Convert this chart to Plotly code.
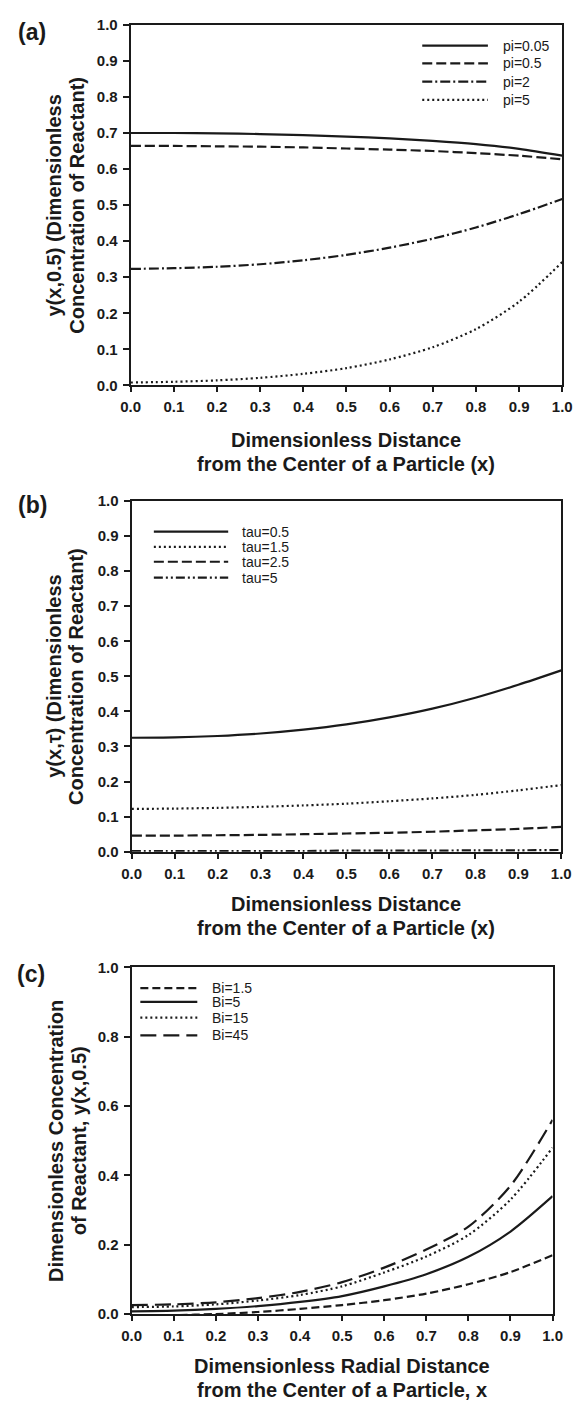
import plotly.graph_objects as go

W, H = 579, 1410
INK = "#1a1a1a"
FONT = "Liberation Sans, Arial, sans-serif"

# ---- data -------------------------------------------------------------
x_pos = [0.0, 0.1, 0.2, 0.3, 0.4, 0.5, 0.6, 0.7, 0.8, 0.9, 1.0]

# (a) y(x, 0.5) for several pi values
pi_labels = ["pi=0.05", "pi=0.5", "pi=2", "pi=5"]
pi_005 = [0.700, 0.700, 0.699, 0.697, 0.694, 0.690, 0.685, 0.678, 0.669, 0.656, 0.637]
pi_05 = [0.664, 0.664, 0.663, 0.662, 0.660, 0.657, 0.654, 0.650, 0.644, 0.637, 0.627]
pi_2 = [0.323, 0.325, 0.329, 0.336, 0.347, 0.362, 0.382, 0.407, 0.438, 0.475, 0.517]
pi_5 = [0.008, 0.010, 0.014, 0.021, 0.032, 0.048, 0.072, 0.106, 0.156, 0.232, 0.342]

# (b) y(x, tau) for several tau values
tau_labels = ["tau=0.5", "tau=1.5", "tau=2.5", "tau=5"]
tau_05 = [0.325, 0.326, 0.330, 0.337, 0.348, 0.363, 0.383, 0.408, 0.439, 0.476, 0.517]
tau_15 = [0.122, 0.123, 0.125, 0.128, 0.132, 0.137, 0.144, 0.152, 0.162, 0.175, 0.190]
tau_25 = [0.046, 0.046, 0.047, 0.048, 0.050, 0.052, 0.054, 0.057, 0.061, 0.065, 0.071]
tau_5 = [0.002, 0.002, 0.002, 0.002, 0.002, 0.003, 0.003, 0.003, 0.004, 0.004, 0.005]

# (c) y(x, 0.5) for several Biot numbers
bi_labels = ["Bi=1.5", "Bi=5", "Bi=15", "Bi=45"]
bi_1_5 = [-0.004, -0.003, 0.000, 0.006, 0.015, 0.026, 0.040, 0.059, 0.086, 0.121, 0.170]
bi_5 = [0.008, 0.010, 0.015, 0.023, 0.035, 0.052, 0.080, 0.115, 0.165, 0.238, 0.340]
bi_15 = [0.020, 0.022, 0.028, 0.039, 0.055, 0.080, 0.120, 0.166, 0.228, 0.330, 0.480]
bi_45 = [0.026, 0.028, 0.034, 0.046, 0.064, 0.092, 0.134, 0.186, 0.252, 0.370, 0.560]

# ---- line styles --------------------------------------------------------
SOLID = "solid"
DOT = "2px,3px"
DASH = "10px,4px"
DASH_DOT = "10px,3px,2px,3px"
DASH_DOT_DOT = "9px,3px,2px,3px,2px,3px"
SHORT_DASH = "8px,4px"
LONG_DASH = "16px,7px"


def px(x):
    return x / W


def py(y):
    return 1 - y / H


panels = [
    dict(
        key="", xdom=(125, 572), ydom=(16, 381), dtick=0.1,
        series=[(pi_005, SOLID), (pi_05, DASH), (pi_2, DASH_DOT), (pi_5, DOT)],
        labels=pi_labels, styles=[SOLID, DASH, DASH_DOT, DOT],
        leg_x=(427, 495), leg_tx=509, leg_y=[37, 55, 73.5, 92],
        tag="(a)", tag_xy=(23, 23),
        ytitle=["y(x,0.5) (Dimensionless", "Concentration of Reactant)"], ytitle_x=(46, 69),
        xtitle=["Dimensionless Distance", "from the Center of a Particle (x)"], xtitle_y=(436, 461),
    ),
    dict(
        key="2", xdom=(126, 571), ydom=(498, 853), dtick=0.1,
        series=[(tau_05, SOLID), (tau_15, DOT), (tau_25, DASH), (tau_5, DASH_DOT_DOT)],
        labels=tau_labels, styles=[SOLID, DOT, DASH, DASH_DOT_DOT],
        leg_x=(149, 226), leg_tx=238, leg_y=[529, 544.5, 559.5, 575.5],
        tag="(b)", tag_xy=(23, 502),
        ytitle=["y(x,τ) (Dimensionless", "Concentration of Reactant)"], ytitle_x=(46, 69),
        xtitle=["Dimensionless Distance", "from the Center of a Particle (x)"], xtitle_y=(906, 930),
    ),
    dict(
        key="3", xdom=(126, 562), ydom=(970, 1321), dtick=0.2,
        series=[(bi_1_5, SHORT_DASH), (bi_5, SOLID), (bi_15, DOT), (bi_45, LONG_DASH)],
        labels=bi_labels, styles=[SHORT_DASH, SOLID, DOT, LONG_DASH],
        leg_x=(135, 194), leg_tx=207, leg_y=[991, 1005, 1021, 1039],
        tag="(c)", tag_xy=(22, 977),
        ytitle=["Dimensionless Concentration", "of Reactant, y(x,0.5)"], ytitle_x=(47, 71),
        xtitle=["Dimensionless Radial Distance", "from the Center of a Particle, x"], xtitle_y=(1374, 1398),
    ),
]

fig = go.Figure()
shapes = []
annotations = []

axis_common = dict(
    range=[0, 1], showgrid=False, zeroline=False, showline=True,
    linecolor=INK, linewidth=2, mirror=True,
    ticks="outside", ticklen=5, tickwidth=1.5, tickcolor=INK,
    tickfont=dict(family=FONT, size=15, color=INK, weight="bold"),
    tickformat=".1f", tick0=0, fixedrange=True,
)

for p in panels:
    k = p["key"]
    xa, ya = "x" + k, "y" + k
    for vals, dash in p["series"]:
        fig.add_trace(go.Scatter(
            x=x_pos, y=vals, mode="lines", xaxis=xa, yaxis=ya,
            line=dict(color=INK, width=2.2, dash=dash, shape="spline", smoothing=0.8),
            showlegend=False, hoverinfo="skip",
        ))

    x0, x1 = p["xdom"]
    y0, y1 = p["ydom"]
    fig.update_layout(**{
        "xaxis" + k: dict(axis_common, domain=[px(x0), px(x1)], anchor=ya, dtick=0.1,
                          ticklabelstandoff=2),
        "yaxis" + k: dict(axis_common, domain=[py(y1), py(y0)], anchor=xa, dtick=p["dtick"],
                          ticklen=6, ticklabelstandoff=2),
    })

    # legend samples and labels
    lx0, lx1 = p["leg_x"]
    for lab, sty, ly in zip(p["labels"], p["styles"], p["leg_y"]):
        shapes.append(dict(type="line", xref="paper", yref="paper",
                           x0=px(lx0), x1=px(lx1), y0=py(ly), y1=py(ly),
                           line=dict(color=INK, width=2.2, dash=sty)))
        annotations.append(dict(text=lab, xref="paper", yref="paper",
                                x=px(p["leg_tx"]), y=py(ly), xanchor="left", yanchor="middle",
                                showarrow=False, font=dict(family=FONT, size=14, color=INK)))

    # panel tag
    tx, ty = p["tag_xy"]
    annotations.append(dict(text=p["tag"], xref="paper", yref="paper", x=px(tx), y=py(ty),
                            xanchor="center", yanchor="middle", showarrow=False,
                            font=dict(family=FONT, size=23, color=INK, weight="bold")))

    # y-axis title, two rotated lines
    ymid = (y0 + y1) / 2
    for line, lxp in zip(p["ytitle"], p["ytitle_x"]):
        annotations.append(dict(text=line, xref="paper", yref="paper", x=px(lxp), y=py(ymid),
                                xanchor="center", yanchor="middle", textangle=-90, showarrow=False,
                                font=dict(family=FONT, size=20, color=INK, weight="bold")))

    # x-axis title, two lines
    xmid = (x0 + x1) / 2
    for line, lyp in zip(p["xtitle"], p["xtitle_y"]):
        annotations.append(dict(text=line, xref="paper", yref="paper", x=px(xmid), y=py(lyp),
                                xanchor="center", yanchor="middle", showarrow=False,
                                font=dict(family=FONT, size=20, color=INK, weight="bold")))

fig.update_layout(
    width=W, height=H, margin=dict(l=0, r=0, t=0, b=0),
    paper_bgcolor="white", plot_bgcolor="white",
    showlegend=False, shapes=shapes, annotations=annotations,
    font=dict(family=FONT, color=INK),
)

fig.write_html("out.html")
